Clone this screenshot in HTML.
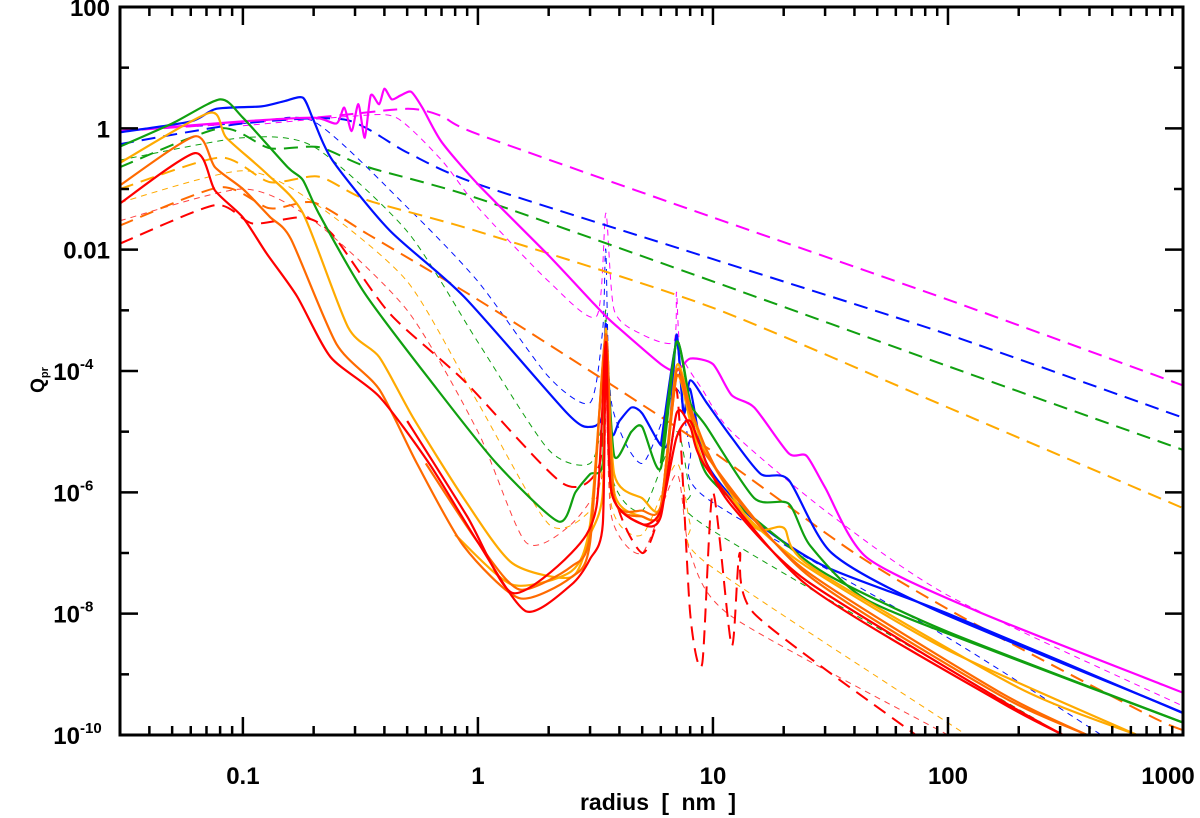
<!DOCTYPE html>
<html><head><meta charset="utf-8"><style>
body{margin:0;background:#fff;}
svg{display:block;font-family:"Liberation Sans",sans-serif;font-weight:bold;}
</style></head><body>
<svg id="chart" width="1200" height="818" viewBox="0 0 1200 818"></svg>
<script>
// ---- data ----
const xTicks = [0.1, 1, 10, 100, 1000];
const xTickLabels = ["0.1", "1", "10", "100", "1000"];
const yTicks = [100, 1, 0.01, 1e-4, 1e-6, 1e-8, 1e-10];
const yTickBase = ["100", "1", "0.01", "10", "10", "10", "10"];
const yTickExp = ["", "", "", "-4", "-6", "-8", "-10"];

const magSolidR = [0.03,0.1,0.2,0.25,0.27,0.29,0.31,0.33,0.35,0.38,0.4,0.43,0.47,0.52,0.58,0.7,1,2,3,3.5,4,6,7,8,10,12,15,21,25,30,45,133,822,1000];
const magSolidQ = [0.9,1.3,1.5,1.2,2.2,0.9,2.5,0.7,3.5,2.5,4.5,3,3.5,4,2.2,0.6,0.12,0.008,0.0015,0.0008,0.0005,1.3e-4,1e-4,1.6e-4,1.3e-4,4e-5,2.5e-5,4.4e-6,4e-6,1.2e-6,8.5e-8,1.1e-8,6.7e-10,5e-10];
const magDashR = [0.03,0.2,0.5,0.7,1,10,100,1000];
const magDashQ = [0.9,1.5,2.1,1.6,0.8,0.034,0.0015,5.8e-5];
const magThinR = [0.1,0.3,0.45,0.7,1,2,3.2,3.5,3.8,5,6.8,7,7.3,9,12,30,100,1000];
const magThinQ = [1.1,1.6,1.5,0.3,0.05,0.003,0.0008,0.04,0.001,0.0004,0.0003,0.002,0.0002,5e-5,1e-5,5e-7,2e-8,3e-10];

const blueSolidR = [0.03,0.06,0.077,0.12,0.15,0.18,0.2,0.24,0.42,0.87,2.4,3,3.4,3.5,3.7,4,4.5,5,6,6.5,7,7.5,8,9.4,12,16,21,32,86,822,1000];
const blueSolidQ = [0.86,1.3,2.1,2.3,2.8,3.2,1.35,0.3,0.021,1.7e-3,2e-5,1.2e-5,2e-5,6e-4,1e-5,1.5e-5,2.5e-5,2e-5,6e-6,8e-6,4e-4,2e-5,7e-5,3e-5,8e-6,2e-6,1.6e-6,1e-7,1.2e-8,3.2e-10,2.3e-10];
const blue2SolidR = [6,7,7.5,8,9.4,15,30,100,1000];
const blue2SolidQ = [6e-6,3e-4,2e-5,5e-5,3e-6,3.5e-7,6e-8,1e-8,2.3e-10];
const blueDashR = [0.03,0.1,0.27,0.5,1,10,100,1000];
const blueDashQ = [0.55,1.2,1.4,0.4,0.12,0.007,4e-4,1.7e-5];
const blueThinR = [0.03,0.1,0.2,0.5,1,2,3,3.4,3.5,3.7,5,7,8,9.4,100,450];
const blueThinQ = [0.9,1.2,1.3,0.05,0.003,8e-5,3e-5,5e-4,0.01,3e-5,3e-6,5e-5,5e-6,8e-7,4e-9,1e-10];

const greenSolidR = [0.03,0.05,0.08,0.1,0.155,0.18,0.21,0.33,0.64,1.2,2.2,2.6,3,3.4,3.5,3.8,4.5,5,6,7,8,9.4,15,21,26,45,167,1000];
const greenSolidQ = [0.5,1.2,3,1.5,0.23,0.14,0.04,1.9e-3,6.3e-5,3e-6,3.3e-7,1e-6,2e-6,3e-6,3e-4,4e-6,1e-5,1.2e-5,2.5e-6,3e-4,3e-5,1.2e-5,8e-7,6.5e-7,1.3e-7,1.7e-8,2.2e-9,1.6e-10];
const green2SolidR = [6,7,8,9.4,20,32,100,1000];
const green2SolidQ = [3e-6,3e-4,3e-5,2e-6,1.5e-7,4e-8,5e-9,1.6e-10];
const greenDashR = [0.03,0.08,0.13,0.21,0.34,1,10,100,1000];
const greenDashQ = [0.23,1,0.47,0.49,0.23,0.07,0.003,1.2e-4,5e-6];
const greenThinR = [0.03,0.1,0.2,0.5,1,2,3,3.4,3.5,3.7,5,7,8,9.4,250];
const greenThinQ = [0.3,0.7,0.5,0.02,3e-4,5e-6,3e-6,2e-5,1e-3,2e-6,5e-7,1e-5,1e-6,2.7e-7,1.6e-10];

const yelSolidR = [0.03,0.072,0.085,0.126,0.18,0.28,0.38,0.53,0.87,1.4,2.5,3,3.4,3.5,3.8,5,6,7,8,9.4,15,20,26,200,638];
const yelSolidQ = [0.27,1.8,0.7,0.18,0.04,5.3e-4,1.7e-4,1.7e-5,8e-7,6.8e-8,4e-8,2e-7,1e-6,5e-4,2e-6,8e-7,6e-7,1.2e-4,2.5e-5,4.4e-6,2.7e-7,2.6e-7,6e-8,6e-10,1e-10];
const yel2SolidR = [0.8,1.4,2.5,3,3.5,3.8,5,6,7,8,9.4,15,25,100,638];
const yel2SolidQ = [2e-7,3e-8,5e-8,3e-7,3e-4,1e-6,4e-7,5e-7,8e-5,1.5e-5,2.5e-6,3e-7,6e-8,2.5e-9,1e-10];
const yelDashR = [0.03,0.08,0.13,0.21,0.34,1,10,100,1000];
const yelDashQ = [0.1,0.33,0.13,0.16,0.065,0.02,0.0011,2.5e-5,5.5e-7];
const yelThinR = [0.03,0.1,0.2,0.5,1,2,3,3.4,3.5,3.7,5,7,8,9.4,120];
const yelThinQ = [0.06,0.2,0.06,0.003,3e-5,3e-7,5e-7,3e-6,3e-4,6e-7,2e-7,3e-6,3e-7,6.8e-8,1e-10];

const orSolidR = [0.03,0.0625,0.076,0.1,0.13,0.16,0.25,0.38,0.55,0.87,1.5,2.5,3,3.5,3.8,5,6,7,8,9.4,12,25,167,391];
const orSolidQ = [0.115,0.74,0.23,0.1,0.035,0.015,2.8e-4,5e-5,3e-6,1.3e-7,1.8e-8,4e-8,1.5e-7,4e-4,8e-7,5e-7,6e-7,1e-4,2.5e-5,5e-6,1e-6,5e-8,5e-10,1e-10];
const or2SolidR = [0.6,1,1.5,2.5,3,3.5,3.8,5,6,7,8,9.4,25,167,391];
const or2SolidQ = [3e-6,1.5e-7,2.5e-8,6e-8,2e-7,4e-4,8e-7,4e-7,5e-7,8e-5,2e-5,4e-6,4.5e-8,4.5e-10,1e-10];
const orDashR = [0.03,0.08,0.13,0.2,0.34,1,3,9.4,40,120,700,1000];
const orDashQ = [0.025,0.107,0.048,0.06,0.018,1.5e-3,1e-4,5.5e-6,1e-7,8e-9,2.2e-10,1.2e-10];

const redSolidR = [0.03,0.0625,0.076,0.1,0.126,0.17,0.236,0.38,0.62,1,1.6,2.5,3,3.4,3.5,3.7,5,6,7,8,9.4,12,25,167,309];
const redSolidQ = [0.058,0.39,0.095,0.034,0.0087,1.7e-3,1.7e-4,3.8e-5,3e-6,1.5e-7,1.1e-8,3e-8,8e-8,3e-7,3e-4,1e-6,3e-7,5e-7,8e-6,1.5e-5,3e-6,6e-7,3.5e-8,3.8e-10,1e-10];
const red2SolidR = [0.5,0.9,1.4,2.5,3.2,3.5,3.7,5,6,7,8,9.4,25,167,309];
const red2SolidQ = [1.5e-5,4e-7,2.2e-8,1e-7,6e-7,3e-4,1e-6,3e-7,4e-7,2e-5,1.2e-5,2.5e-6,3e-8,3.5e-10,1e-10];
const redDashR = [0.03,0.076,0.11,0.18,0.24,0.42,0.87,2.3,3.3,3.5,3.8,5,6,7,8,9,10,12,13,15,73];
const redDashQ = [0.0126,0.054,0.027,0.034,0.018,9e-4,7e-5,1.4e-6,3e-6,4e-4,1e-6,1e-7,6e-7,5e-5,1e-8,1.5e-9,1e-6,3e-9,1e-7,1e-8,1e-10];
const redThinR = [0.03,0.1,0.2,0.5,1,1.6,2.5,3.4,3.5,3.7,5,7,8,12,100];
const redThinQ = [0.03,0.1,0.03,0.001,1e-5,1.5e-7,3e-7,2e-6,1e-4,4e-7,1e-7,2e-6,1e-7,9e-9,1e-10];

const series = [
 {name:"red-thin-dashed",r:redThinR,q:redThinQ,c:"#ff4040",w:1,d:"6,5"},
 {name:"yellow-thin-dashed",r:yelThinR,q:yelThinQ,c:"#ffaa00",w:1,d:"6,5"},
 {name:"green-thin-dashed",r:greenThinR,q:greenThinQ,c:"#10a010",w:1,d:"6,5"},
 {name:"blue-thin-dashed",r:blueThinR,q:blueThinQ,c:"#0010ff",w:1,d:"6,5"},
 {name:"magenta-thin-dashed",r:magThinR,q:magThinQ,c:"#ff00ff",w:1,d:"6,5"},
 {name:"magenta-dashed",r:magDashR,q:magDashQ,c:"#ff00ff",w:2,d:"14,8"},
 {name:"blue-dashed",r:blueDashR,q:blueDashQ,c:"#0010ff",w:2,d:"14,8"},
 {name:"green-dashed",r:greenDashR,q:greenDashQ,c:"#10a010",w:2,d:"14,8"},
 {name:"yellow-dashed",r:yelDashR,q:yelDashQ,c:"#ffaa00",w:2,d:"14,8"},
 {name:"orange-dashed",r:orDashR,q:orDashQ,c:"#ff6a00",w:2,d:"14,8"},
 {name:"red-dashed",r:redDashR,q:redDashQ,c:"#ff0000",w:2,d:"14,8"},
 {name:"magenta-solid",r:magSolidR,q:magSolidQ,c:"#ff00ff",w:2.2,d:""},
 {name:"blue-solid",r:blueSolidR,q:blueSolidQ,c:"#0010ff",w:2.2,d:""},
 {name:"blue-solid-2",r:blue2SolidR,q:blue2SolidQ,c:"#0010ff",w:2.2,d:""},
 {name:"green-solid",r:greenSolidR,q:greenSolidQ,c:"#10a010",w:2.2,d:""},
 {name:"green-solid-2",r:green2SolidR,q:green2SolidQ,c:"#10a010",w:2.2,d:""},
 {name:"yellow-solid",r:yelSolidR,q:yelSolidQ,c:"#ffaa00",w:2.2,d:""},
 {name:"yellow-solid-2",r:yel2SolidR,q:yel2SolidQ,c:"#ffaa00",w:2.2,d:""},
 {name:"orange-solid",r:orSolidR,q:orSolidQ,c:"#ff6a00",w:2.2,d:""},
 {name:"orange-solid-2",r:or2SolidR,q:or2SolidQ,c:"#ff6a00",w:2.2,d:""},
 {name:"red-solid",r:redSolidR,q:redSolidQ,c:"#ff0000",w:2.2,d:""},
 {name:"red-solid-2",r:red2SolidR,q:red2SolidQ,c:"#ff0000",w:2.2,d:""}
];

// ---- axes ----
const L=120,R=1183,T=7,B=735;
const xMin=Math.log10(0.03),xMax=3,yMin=-10,yMax=2;
function X(v){return L+(Math.log10(v)-xMin)/(xMax-xMin)*(R-L);}
function Y(v){return B-(Math.log10(v)-yMin)/(yMax-yMin)*(B-T);}
const NS="http://www.w3.org/2000/svg";
const svg=document.getElementById("chart");
function el(tag,attrs,parent){const e=document.createElementNS(NS,tag);for(const k in attrs)e.setAttribute(k,attrs[k]);(parent||svg).appendChild(e);return e;}
function smoothPath(p){
  let d="M"+p[0][0].toFixed(1)+","+p[0][1].toFixed(1);
  const k=0.12;
  for(let i=0;i<p.length-1;i++){
    const p0=p[Math.max(0,i-1)],p1=p[i],p2=p[i+1],p3=p[Math.min(p.length-1,i+2)];
    const c1=[p1[0]+(p2[0]-p0[0])*k,p1[1]+(p2[1]-p0[1])*k];
    const c2=[p2[0]-(p3[0]-p1[0])*k,p2[1]-(p3[1]-p1[1])*k];
    d+=" C"+c1[0].toFixed(1)+","+c1[1].toFixed(1)+" "+c2[0].toFixed(1)+","+c2[1].toFixed(1)+" "+p2[0].toFixed(1)+","+p2[1].toFixed(1);
  }
  return d;
}

const defs=el("defs",{});
const cp=el("clipPath",{id:"clip"},defs);
el("rect",{x:L,y:T,width:R-L,height:B-T},cp);
const plot=el("g",{"clip-path":"url(#clip)"});



series.forEach(s=>{
  const pts=s.r.map((r,i)=>[X(r),Y(s.q[i])]);
  const p=el("path",{d:smoothPath(pts),fill:"none",stroke:s.c,"stroke-width":s.w,"stroke-dasharray":s.d,"stroke-linejoin":"round"},plot);
  
  
});

const frame=el("rect",{x:L,y:T,width:R-L,height:B-T,fill:"none",stroke:"#000","stroke-width":3});



const tg=el("g",{stroke:"#000","stroke-width":2.5});


for(let e=-2;e<=2;e++){for(let m=1;m<10;m++){const v=m*Math.pow(10,e);if(v<0.03||v>1000)continue;const x=X(v);const len=m===1?18:9;
  el("line",{x1:x,y1:B,x2:x,y2:B-len},tg);el("line",{x1:x,y1:T,x2:x,y2:T+len},tg);}}
el("line",{x1:X(1000),y1:B,x2:X(1000),y2:B-18},tg);el("line",{x1:X(1000),y1:T,x2:X(1000),y2:T+18},tg);
for(let e=-10;e<2;e++){const v=Math.pow(10,e);const y=Y(v);const major=(e%2===0);
  el("line",{x1:L,y1:y,x2:L+(major?18:9),y2:y},tg);el("line",{x1:R,y1:y,x2:R-(major?18:9),y2:y},tg);}
xTicks.forEach((v,i)=>{
  const t=el("text",{x:Math.min(X(v),1168),y:784,"text-anchor":"middle","font-size":24},svg);
  t.textContent=xTickLabels[i];
  
  
});
yTicks.forEach((v,i)=>{
  const t=el("text",{x:yTickExp[i]?L-40:L-10,y:Y(v)+9,"text-anchor":"end","font-size":24},svg);
  t.textContent=yTickBase[i];
  
  
  if(yTickExp[i]){const s=el("text",{x:L-40,y:Y(v)-2,"text-anchor":"start","font-size":15},svg);s.textContent=yTickExp[i];
  
  }
});
const xt=el("text",{x:658,y:810,"text-anchor":"middle","font-size":23,"word-spacing":"6"},svg);
xt.textContent="radius [ nm ]";


const yt=el("text",{x:0,y:0,"text-anchor":"middle","font-size":19,transform:"translate(44,380) rotate(-90)"},svg);
yt.innerHTML='Q<tspan font-size="11" dy="4">pr</tspan>';


</script>
</body></html>
